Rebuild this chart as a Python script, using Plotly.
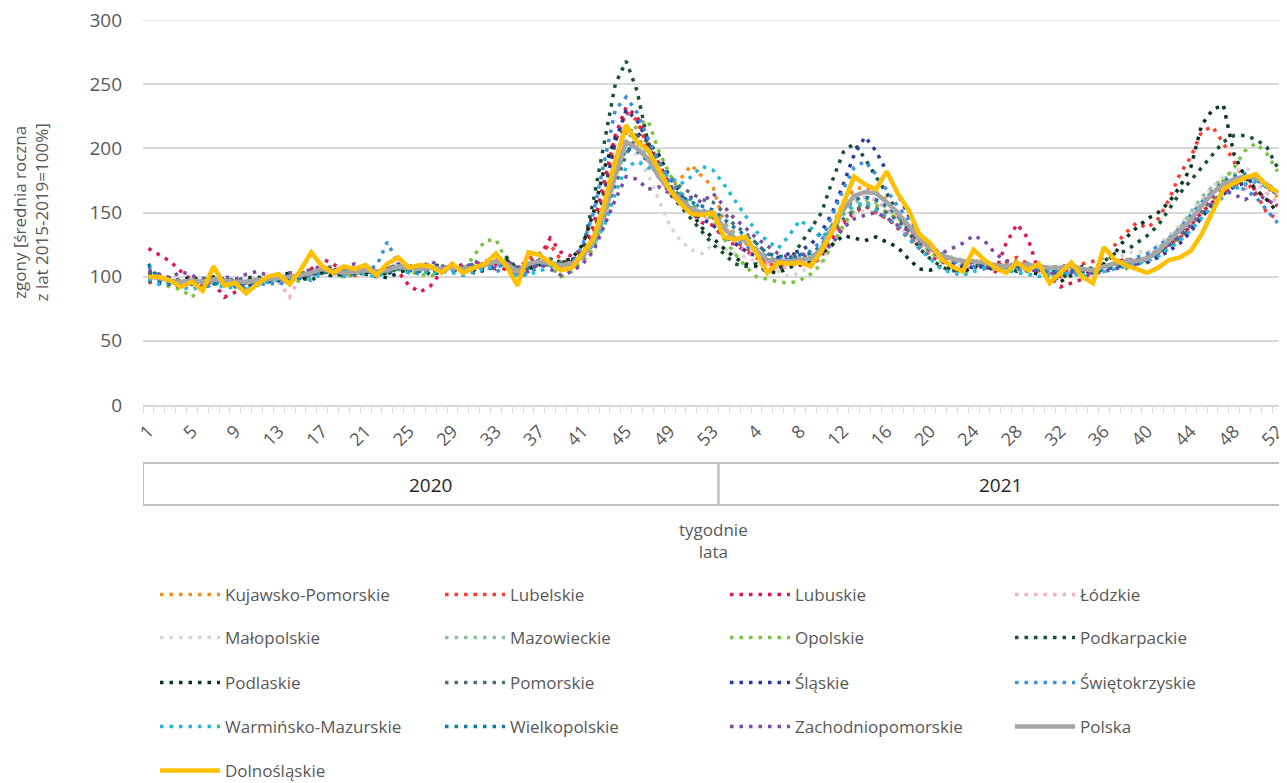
import plotly.graph_objects as go

# ---- categories ----
weeks_2020 = list(range(1, 54))
weeks_2021 = list(range(1, 53))
year_labels = ["2020", "2021"]
y_ticks = [0, 50, 100, 150, 200, 250, 300]

# ---- series (index 0..52 = 2020 w1..w53, 53..104 = 2021 w1..w52) ----
kujawsko_pomorskie = [
    98, 96, 95, 93, 97, 94, 99, 98, 94, 97,
    96, 100, 98, 101, 99, 104, 105, 103, 101, 105,
    106, 103, 104, 109, 106, 104, 108, 105, 110, 104,
    106, 110, 113, 109, 103, 108, 111, 112, 108, 111,
    114, 126, 152, 184, 212, 210, 195, 182, 172, 176,
    187, 178, 170,
    142, 133, 126, 121, 112, 110, 114, 112, 116, 120,
    140, 158, 168, 170, 166, 160, 148, 138, 128, 120,
    116, 112, 110, 113, 108, 107, 110, 112, 106, 109,
    106, 104, 110, 105, 103, 107, 112, 114, 110, 116,
    118, 126, 132, 142, 150, 160, 168, 172, 175, 178, 170, 162]
lubelskie = [
    95, 98, 96, 94, 99, 92, 97, 96, 93, 95,
    98, 97, 100, 99, 103, 105, 104, 106, 102, 101,
    104, 106, 103, 107, 105, 108, 103, 106, 105, 104,
    106, 108, 110, 112, 106, 114, 118, 125, 113, 110,
    120, 135, 170, 205, 228, 222, 200, 182, 165, 158,
    152, 148, 146,
    138, 128, 122, 118, 110, 108, 111, 112, 110, 118,
    132, 142, 150, 155, 150, 145, 140, 132, 125, 118,
    114, 112, 108, 110, 109, 106, 112, 115, 110, 107,
    104, 100, 108, 110, 112, 115, 125, 134, 142, 138,
    145, 160, 180, 193, 213, 217, 204, 190, 175, 165, 150, 145]
lubuskie = [
    122, 117, 112, 104, 97, 93, 95, 84, 88, 90,
    96, 99, 102, 98, 101, 106, 114, 110, 104, 103,
    106, 102, 108, 104, 93, 88, 93, 104, 106, 110,
    108, 113, 109, 105, 100, 111, 115, 130, 119, 116,
    122, 140, 175, 210, 232, 225, 205, 188, 172, 160,
    150, 142, 140,
    130, 125, 120, 115, 108, 106, 110, 109, 108, 116,
    128, 140, 150, 155, 152, 146, 138, 130, 122, 116,
    112, 108, 105, 110, 108, 104, 126, 141, 130, 104,
    100, 92, 95, 98, 104, 108, 110, 114, 112, 116,
    118, 125, 130, 140, 150, 158, 165, 170, 172, 168, 160, 155]
lodzkie = [
    101, 97, 96, 95, 96, 94, 97, 96, 95, 93,
    95, 97, 96, 84, 100, 102, 104, 102, 103, 104,
    103, 105, 104, 107, 105, 106, 104, 107, 105, 106,
    108, 107, 110, 112, 102, 109, 111, 110, 108, 112,
    118, 132, 160, 192, 215, 205, 190, 178, 165, 158,
    150, 146, 144,
    135, 127, 120, 114, 110, 106, 108, 110, 112, 118,
    135, 150, 160, 162, 160, 152, 146, 136, 126, 119,
    114, 110, 108, 109, 107, 106, 104, 106, 105, 104,
    103, 100, 105, 104, 102, 106, 108, 110, 111, 113,
    118, 126, 134, 145, 158, 168, 172, 170, 168, 174, 165, 158]
malopolskie = [
    99, 96, 97, 94, 95, 97, 96, 94, 96, 95,
    97, 96, 99, 101, 100, 102, 103, 105, 102, 103,
    104, 102, 106, 105, 107, 104, 106, 108, 105, 107,
    106, 108, 111, 109, 105, 108, 110, 109, 111, 108,
    115, 125, 145, 175, 200, 195, 180, 160, 140, 128,
    121, 118, 125,
    122, 118, 115, 112, 106, 104, 100, 103, 108, 112,
    125, 138, 148, 152, 150, 145, 140, 132, 125, 118,
    113, 110, 108, 109, 110, 106, 107, 108, 105, 106,
    104, 106, 107, 105, 104, 106, 112, 118, 120, 118,
    125, 132, 140, 150, 160, 170, 178, 182, 185, 180, 172, 165]
mazowieckie = [
    100, 98, 96, 94, 95, 97, 96, 95, 97, 94,
    96, 98, 99, 100, 102, 104, 107, 104, 105, 103,
    104, 106, 105, 107, 108, 105, 109, 107, 106, 108,
    108, 110, 112, 111, 105, 108, 113, 111, 110, 112,
    117, 128, 148, 178, 198, 205, 195, 182, 170, 162,
    155, 152, 150,
    142, 134, 130, 122, 115, 113, 112, 114, 115, 120,
    136, 148, 158, 160, 158, 154, 146, 138, 128, 122,
    118, 115, 113, 112, 110, 108, 107, 110, 108, 107,
    106, 108, 107, 106, 105, 108, 110, 111, 113, 115,
    122, 130, 138, 150, 162, 170, 176, 180, 178, 176, 172, 168]
opolskie = [
    97, 95, 92, 90, 84, 93, 95, 94, 92, 96,
    94, 97, 95, 99, 96, 101, 103, 105, 99, 102,
    104, 102, 103, 106, 104, 102, 100, 106, 109, 105,
    116, 128, 129, 112, 100, 106, 112, 108, 100, 104,
    112, 122, 146, 178, 205, 218, 222, 198, 180, 165,
    156, 150, 145,
    130, 118, 108, 100, 98, 96, 95, 97, 102, 110,
    125, 140, 152, 158, 156, 150, 145, 138, 128, 120,
    112, 108, 103, 106, 110, 104, 106, 108, 104, 106,
    102, 100, 104, 106, 103, 105, 108, 106, 110, 114,
    120, 125, 130, 140, 150, 162, 175, 185, 198, 204, 196, 182]
podkarpackie = [
    103, 101, 99, 96, 98, 95, 100, 98, 97, 99,
    100, 98, 102, 100, 99, 97, 103, 101, 104, 106,
    102, 100, 103, 107, 109, 105, 110, 108, 106, 104,
    105, 112, 110, 115, 106, 109, 113, 108, 111, 113,
    120, 160, 205, 250, 268, 245, 205, 180, 165, 155,
    145, 136, 125,
    118, 110, 108, 110, 104, 106, 112, 125, 138, 150,
    175, 197, 204, 192, 178, 165, 150, 136, 122, 114,
    108, 104, 108, 112, 110, 106, 108, 104, 110, 106,
    100, 98, 104, 108, 106, 112, 118, 120, 126, 132,
    140, 152, 165, 175, 185, 195, 205, 210, 210, 207, 201, 185]
podlaskie = [
    102, 99, 98, 97, 100, 96, 99, 97, 95, 98,
    97, 99, 100, 103, 98, 102, 104, 100, 103, 105,
    104, 101, 99, 103, 106, 108, 101, 104, 107, 105,
    103, 105, 108, 113, 104, 106, 109, 111, 112, 114,
    125, 150, 185, 208, 215, 212, 205, 195, 178, 165,
    150, 138, 130,
    122, 115, 110, 108, 104, 103, 107, 110, 113, 118,
    125, 132, 130, 128, 131, 127, 123, 114, 106, 105,
    108, 106, 104, 107, 112, 108, 106, 110, 104, 102,
    100, 96, 101, 105, 103, 110, 118, 130, 138, 145,
    150, 158, 170, 185, 218, 230, 234, 195, 178, 168, 160, 150]
pomorskie = [
    104, 100, 98, 95, 96, 99, 97, 94, 98, 96,
    98, 99, 101, 97, 103, 104, 106, 108, 104, 105,
    106, 103, 107, 109, 104, 108, 106, 109, 104, 107,
    110, 108, 113, 111, 107, 106, 110, 114, 111, 108,
    115, 128, 148, 172, 195, 210, 205, 190, 178, 170,
    165, 160, 158,
    150, 140, 134, 126, 118, 114, 113, 116, 115, 121,
    135, 145, 152, 155, 153, 150, 144, 136, 126, 120,
    116, 113, 111, 112, 108, 110, 109, 107, 110, 108,
    106, 109, 107, 104, 106, 109, 108, 111, 113, 112,
    118, 124, 130, 138, 148, 158, 166, 172, 175, 176, 172, 166]
slaskie = [
    97, 95, 94, 92, 96, 93, 95, 94, 96, 92,
    95, 96, 97, 99, 100, 102, 103, 104, 101, 102,
    103, 104, 102, 106, 105, 103, 106, 104, 105, 104,
    105, 106, 109, 108, 104, 107, 110, 109, 108, 112,
    118, 132, 165, 205, 230, 222, 205, 185, 170, 160,
    150, 145, 140,
    132, 126, 120, 116, 112, 115, 118, 120, 125, 135,
    150, 172, 195, 209, 198, 182, 165, 148, 133, 122,
    115, 110, 108, 107, 108, 105, 106, 108, 106, 105,
    104, 103, 106, 104, 103, 106, 107, 109, 110, 111,
    115, 120, 126, 135, 146, 156, 164, 170, 173, 176, 170, 164]
swietokrzyskie = [
    108, 100, 96, 93, 94, 90, 95, 96, 92, 91,
    93, 95, 94, 97, 99, 101, 103, 105, 102, 104,
    106, 108, 127, 110, 104, 102, 106, 108, 105, 103,
    106, 108, 104, 106, 103, 102, 108, 110, 107, 109,
    125, 150, 190, 230, 240, 228, 208, 190, 175, 165,
    160, 152, 148,
    138, 130, 124, 120, 115, 112, 113, 117, 120, 128,
    148, 168, 185, 190, 180, 168, 155, 145, 132, 122,
    116, 112, 110, 108, 107, 109, 106, 104, 108, 106,
    105, 104, 102, 106, 105, 108, 110, 112, 115, 118,
    124, 130, 138, 148, 158, 166, 172, 170, 168, 162, 152, 142]
warminsko_mazurskie = [
    98, 94, 95, 92, 90, 93, 96, 91, 92, 90,
    93, 96, 98, 95, 101, 97, 103, 104, 100, 102,
    102, 100, 104, 106, 103, 105, 102, 104, 103, 101,
    104, 106, 109, 107, 100, 102, 104, 108, 106, 110,
    116, 125, 140, 165, 185, 190, 185, 182, 178, 172,
    178, 186, 183,
    172, 160, 148, 135, 128, 122, 132, 144, 138, 130,
    140, 150, 155, 158, 152, 146, 140, 130, 122, 114,
    106, 103, 101, 104, 106, 108, 105, 103, 102, 100,
    102, 101, 103, 100, 102, 104, 106, 108, 110, 112,
    116, 122, 128, 136, 146, 155, 162, 168, 172, 174, 170, 165]
wielkopolskie = [
    110, 97, 95, 93, 95, 92, 94, 96, 93, 94,
    96, 97, 98, 100, 99, 103, 104, 103, 104, 102,
    105, 104, 103, 107, 106, 104, 107, 105, 108, 106,
    108, 110, 111, 109, 104, 107, 112, 109, 108, 111,
    117, 128, 152, 182, 200, 198, 190, 180, 170, 163,
    158, 155, 152,
    145, 138, 132, 126, 118, 116, 115, 117, 118, 124,
    140, 152, 160, 162, 160, 155, 148, 140, 130, 124,
    118, 114, 112, 111, 109, 108, 107, 108, 106, 105,
    104, 106, 105, 104, 103, 106, 108, 110, 112, 114,
    118, 126, 134, 144, 156, 166, 174, 178, 180, 178, 172, 166]
zachodniopomorskie = [
    105, 102, 99, 104, 101, 97, 103, 100, 98, 102,
    104, 101, 99, 103, 102, 106, 108, 105, 107, 110,
    108, 104, 106, 110, 108, 107, 112, 108, 110, 106,
    112, 109, 106, 112, 108, 104, 110, 106, 101, 104,
    110, 120, 140, 160, 178, 176, 168, 170, 165, 158,
    162, 158, 165,
    155, 145, 138, 130, 124, 118, 115, 118, 116, 118,
    126, 138, 145, 148, 150, 146, 140, 136, 128, 124,
    118, 122, 126, 132, 128, 118, 112, 110, 106, 104,
    102, 104, 103, 105, 102, 104, 106, 108, 110, 114,
    120, 125, 132, 140, 152, 162, 168, 164, 160, 165, 160, 155]
polska = [
    100, 99, 97, 96, 97, 96, 98, 97, 96, 96,
    97, 98, 99, 100, 101, 103, 106, 104, 103, 104,
    105, 104, 105, 108, 107, 106, 107, 106, 107, 106,
    107, 109, 112, 110, 104, 110, 112, 110, 109, 110,
    116, 128, 150, 180, 205, 200, 192, 178, 168, 160,
    153, 150, 150,
    138, 130, 128, 120, 113, 112, 112, 113, 114, 122,
    138, 152, 163, 166, 165, 158, 150, 140, 130, 122,
    117, 114, 112, 112, 111, 109, 108, 110, 109, 108,
    107, 107, 108, 106, 105, 108, 110, 112, 112, 114,
    120, 128, 135, 144, 155, 165, 172, 176, 178, 177, 172, 165]
dolnoslaskie = [
    100, 100, 97, 92, 96, 89, 108, 93, 95, 87,
    94, 100, 102, 94, 105, 119, 108, 103, 108, 106,
    109, 101, 110, 115, 107, 109, 108, 103, 110, 103,
    107, 110, 118, 108, 93, 119, 117, 111, 105, 107,
    118, 130, 157, 190, 218, 205, 199, 184, 168, 157,
    149, 148, 150,
    131, 129, 131, 118, 103, 111, 110, 111, 108, 120,
    136, 158, 178, 172, 168, 182, 165, 152, 133, 126,
    114, 108, 104, 121, 113, 107, 103, 111, 105, 110,
    95, 103, 111, 100, 95, 123, 113, 109, 106, 103,
    107, 113, 115, 120, 133, 150, 168, 173, 177, 180, 171, 166]

regions = [
    ("Kujawsko-Pomorskie", kujawsko_pomorskie, "#f28e1c"),
    ("Lubelskie", lubelskie, "#ff3b30"),
    ("Lubuskie", lubuskie, "#d81b4a"),
    ("Łódzkie", lodzkie, "#f5b0c6"),
    ("Małopolskie", malopolskie, "#d6d6d6"),
    ("Mazowieckie", mazowieckie, "#8fbf9f"),
    ("Opolskie", opolskie, "#7cc242"),
    ("Podkarpackie", podkarpackie, "#1b5136"),
    ("Podlaskie", podlaskie, "#0a3320"),
    ("Pomorskie", pomorskie, "#4f6e7a"),
    ("Śląskie", slaskie, "#2b3b9b"),
    ("Świętokrzyskie", swietokrzyskie, "#3b8fe0"),
    ("Warmińsko-Mazurskie", warminsko_mazurskie, "#22b8dc"),
    ("Wielkopolskie", wielkopolskie, "#0b7ea0"),
    ("Zachodniopomorskie", zachodniopomorskie, "#7a4ca8"),
]

n = len(weeks_2020) + len(weeks_2021)
bad = [(nm, len(v)) for nm, v, _ in regions if len(v) != n]
if len(polska) != n or len(dolnoslaskie) != n or bad:
    raise SystemExit(f"length mismatch {bad} polska={len(polska)} dol={len(dolnoslaskie)} n={n}")

x_idx = list(range(n))
week_labels = [str(w) for w in weeks_2020 + weeks_2021]

legend_ids = ["legend", "legend2", "legend3", "legend4", "legend5"]

fig = go.Figure()
for k, (name, vals, color) in enumerate(regions):
    fig.add_trace(go.Scatter(
        x=x_idx, y=vals, mode="lines", name=name,
        line=dict(color=color, width=3.5, dash="3.5px,6px"),
        legend=legend_ids[k // 4]))
fig.add_trace(go.Scatter(x=x_idx, y=polska, mode="lines", name="Polska",
                         line=dict(color="#a6a6a6", width=4.5), legend="legend4"))
fig.add_trace(go.Scatter(x=x_idx, y=dolnoslaskie, mode="lines", name="Dolnośląskie",
                         line=dict(color="#ffc000", width=4.5), legend="legend5"))

# page offset (the page body has an 8px margin)
OFF = 8
FIG_W, FIG_H = 1287 - OFF, 783 - OFF
PLOT_LEFT, PLOT_RIGHT = 143, 1283      # page pixels
PLOT_TOP, PLOT_BOTTOM = 20, 405        # page pixels
PLOT_W, PLOT_H = PLOT_RIGHT - PLOT_LEFT, PLOT_BOTTOM - PLOT_TOP


def py(pixel_y):
    return (PLOT_BOTTOM - pixel_y) / PLOT_H


def px(pixel_x):
    return (pixel_x - PLOT_LEFT) / PLOT_W


# top gridline (plotly drops the grid line lying on the plot edge)
fig.add_shape(type="line", xref="paper", yref="y", x0=0, x1=1, y0=y_ticks[-1], y1=y_ticks[-1],
              line=dict(color="#d9d9d9", width=1.5), layer="below")

# year boxes
n20 = len(weeks_2020)
spans = [(-0.5, n20 - 0.5), (n20 - 0.5, n - 0.5)]
for (x0, x1), lab in zip(spans, year_labels):
    fig.add_shape(type="rect", xref="x", yref="paper", x0=x0, x1=x1,
                  y0=py(505), y1=py(463), line=dict(color="#c0c0c0", width=2),
                  fillcolor="rgba(0,0,0,0)")
    fig.add_annotation(xref="x", yref="paper", x=(x0 + x1) / 2, y=py(485),
                       xanchor="center", yanchor="middle",
                       text=lab, showarrow=False, font=dict(size=19, color="#262626"))

fig.add_annotation(xref="paper", yref="paper", x=0.5, y=py(540),
                   xanchor="center", yanchor="middle",
                   text="tygodnie<br>lata", showarrow=False,
                   font=dict(size=17, color="#595959"))
fig.add_annotation(xref="paper", yref="paper", x=px(30), y=0.5, textangle=-90,
                   xanchor="center", yanchor="middle",
                   text="zgony [średnia roczna<br>z lat 2015-2019=100%]", showarrow=False,
                   font=dict(size=17, color="#595959"))

legend_rows_y = [595, 638, 683, 727, 771]
legend_common = dict(orientation="h", x=px(155), xanchor="left", yanchor="middle",
                     entrywidth=210, entrywidthmode="pixels", itemwidth=60,
                     font=dict(size=17, color="#595959", family="Open Sans"),
                     bgcolor="rgba(0,0,0,0)", traceorder="normal")
legend_layout = {}
for lid, yy in zip(legend_ids, legend_rows_y):
    legend_layout[lid] = dict(legend_common, y=py(yy))

fig.update_layout(
    width=FIG_W, height=FIG_H,
    margin=dict(l=PLOT_LEFT - OFF, r=FIG_W - (PLOT_RIGHT - OFF), t=PLOT_TOP - OFF,
                b=FIG_H - (PLOT_BOTTOM - OFF), autoexpand=False),
    paper_bgcolor="white", plot_bgcolor="white",
    font=dict(family="Open Sans", color="#595959"),
    showlegend=True,
    xaxis=dict(range=[-0.5, n - 0.5], tickmode="array",
               tickvals=x_idx[::4], ticktext=week_labels[::4], tickangle=-45,
               tickfont=dict(size=18, color="#595959"), ticklabeloverflow="allow",
               showgrid=False, zeroline=False, showline=True,
               linecolor="#d9d9d9", linewidth=1.5,
               ticks="outside", ticklen=7, tickcolor="rgba(0,0,0,0)",
               minor=dict(tickmode="linear", tick0=-0.5, dtick=1, ticks="outside",
                          ticklen=6, tickcolor="#d9d9d9", tickwidth=1, showgrid=False)),
    yaxis=dict(range=[0, 300], tickmode="array", tickvals=y_ticks,
               gridcolor="#d9d9d9", gridwidth=1.5, ticklabeloverflow="allow",
               showline=False, zeroline=False, tickfont=dict(size=19, color="#595959"),
               ticks="", ticklabelstandoff=20),
    **legend_layout,
)

fig.write_html("out.html")
